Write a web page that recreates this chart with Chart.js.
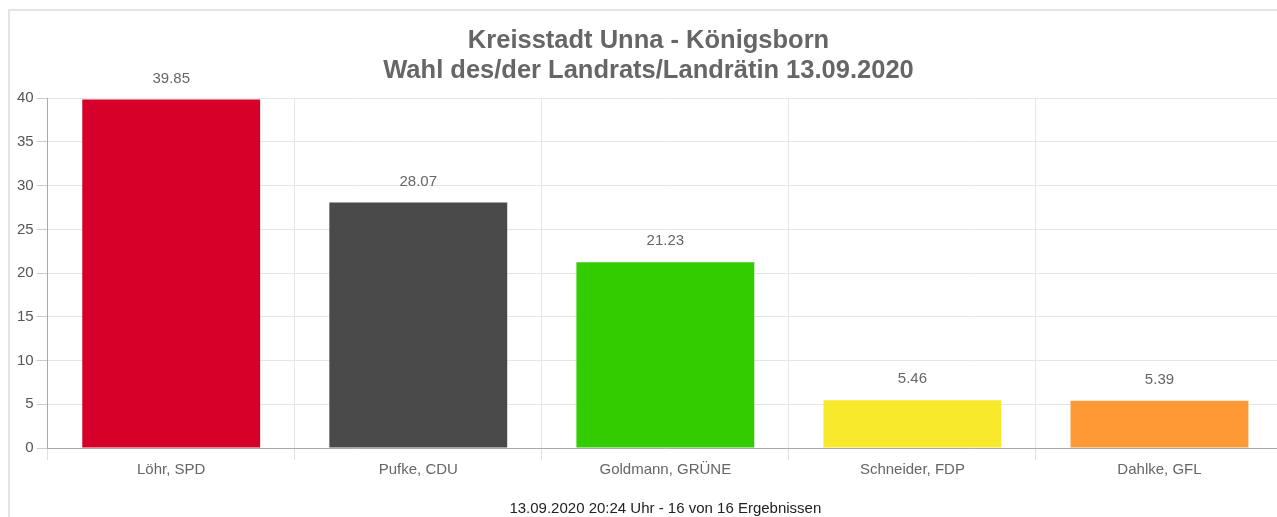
<!DOCTYPE html>
<html lang="de">
  <head>
    <meta charset="UTF-8" />
    <title>Kreisstadt Unna - Königsborn</title>
    <script src="https://cdn.jsdelivr.net/npm/chart.js"></script>
    <style>
      html, body { margin: 0; padding: 0; background: #fff; overflow: hidden; }
      #frame {
        position: absolute; left: 8px; top: 9px;
        width: 1300px; height: 540px;
        border-left: 2px solid #e2e2e8; border-top: 2px solid #e2e2e8;
      }
      #wrap { position: absolute; left: 10px; top: 11px; width: 1276px; height: 511px; }
    </style>
  </head>
  <body>
    <div id="frame"></div>
    <div id="wrap"><canvas id="chart"></canvas></div>

    <script>
      // data
      const candidates = ['Löhr, SPD', 'Pufke, CDU', 'Goldmann, GRÜNE', 'Schneider, FDP', 'Dahlke, GFL'];
      const percentages = [39.85, 28.07, 21.23, 5.46, 5.39];
      const barColors = ['#d50029', '#4a4a4a', '#33cc00', '#f9e92c', '#fd9a35'];
      const titleLines = ['Kreisstadt Unna - Königsborn', 'Wahl des/der Landrats/Landrätin 13.09.2020'];
      const footerText = '13.09.2020 20:24 Uhr - 16 von 16 Ergebnissen';

      const font = "'Liberation Sans', Arial, sans-serif";

      // values above bars
      const valueLabels = {
        id: 'valueLabels',
        afterDatasetsDraw(chart) {
          const ctx = chart.ctx;
          const meta = chart.getDatasetMeta(0);
          ctx.save();
          ctx.font = '15px ' + font;
          ctx.fillStyle = '#666';
          ctx.textAlign = 'center';
          ctx.textBaseline = 'middle';
          meta.data.forEach((bar, i) => {
            ctx.fillText(percentages[i].toFixed(2), bar.x, bar.y - 21);
          });
          ctx.restore();
        }
      };

      new Chart(document.getElementById('chart'), {
        type: 'bar',
        data: {
          labels: candidates,
          datasets: [{
            data: percentages,
            backgroundColor: barColors,
            borderWidth: 0
          }]
        },
        options: {
          responsive: true,
          maintainAspectRatio: false,
          animation: false,
          layout: { padding: { left: 4, right: 3, top: 0, bottom: 0 } },
          plugins: {
            legend: { display: false },
            tooltip: { enabled: false },
            title: {
              display: true,
              text: titleLines,
              color: '#666',
              font: { family: font, size: 25.5, weight: 'bold', lineHeight: 1.2 },
              padding: { top: 14.5, bottom: 11.5 }
            }
          },
          scales: {
            x: {
              grid: { color: '#e6e6e6', tickLength: 12, tickColor: '#e0e0e0' },
              border: { color: '#aaa' },
              ticks: { color: '#666', padding: 1, font: { family: font, size: 15 } },
              title: {
                display: true,
                text: footerText,
                color: '#222',
                font: { family: font, size: 15 },
                padding: { top: 20, bottom: 4 }
              }
            },
            y: {
              min: 0,
              max: 40,
              ticks: { stepSize: 5, color: '#555', padding: 3, font: { family: font, size: 15 } },
              grid: { color: '#e6e6e6', tickLength: 11, tickColor: '#ccc' },
              border: { color: '#aaa' }
            }
          }
        },
        plugins: [valueLabels]
      });
    </script>
  </body>
</html>
